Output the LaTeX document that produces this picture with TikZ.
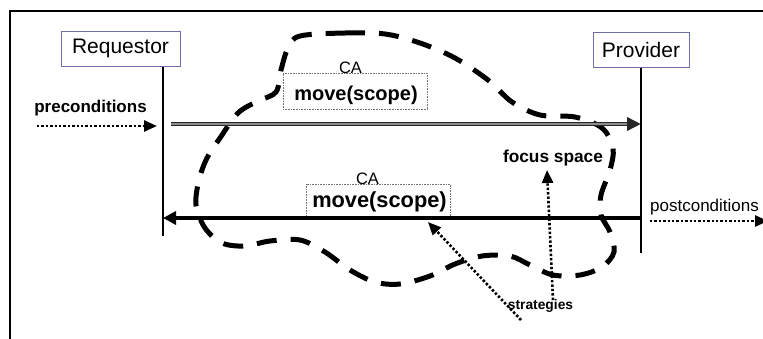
\documentclass[tikz,border=0pt]{standalone}
\usepackage{fontspec}
\setmainfont{Liberation Sans}
\usetikzlibrary{arrows.meta}
\definecolor{boxedge}{RGB}{110,110,170}

\begin{document}
\begin{tikzpicture}[x=1pt,y=-1pt,
  actor/.style={draw=boxedge,line width=1pt,fill=white,inner sep=0pt,
    font=\fontsize{21}{25}\selectfont},
  lifeline/.style={line width=2pt},
  cabox/.style={draw=black!55,densely dotted,line width=0.6pt,inner sep=0pt},
  calabel/.style={font=\fontsize{16.5}{20}\selectfont,inner sep=0pt},
  movetext/.style={font=\bfseries\fontsize{20}{24}\selectfont,inner sep=0pt},
  condtext/.style={inner sep=0pt},
  dotarrow/.style={line width=2.6pt,dash pattern=on 2.4pt off 2pt,
    -{Triangle[length=13pt,width=11pt]}},
  blob/.style={line width=5pt,dash pattern=on 20pt off 14pt},
]
\useasboundingbox (0,0) rectangle (763,338);
\clip (0,0) rectangle (763,338);

% frame
\draw[line width=2pt] (770,11) -- (10,11) -- (10,345);

% focus space outline
\draw[blob] plot[smooth cycle, tension=0.55] coordinates {
  (300,36) (345,33) (385,34) (420,43) (455,58) (488,80) (512,102)
  (540,115) (575,117) (602,128) (613,148) (610,170) (601,195) (601,215)
  (610,232) (614,252) (602,267) (580,275) (553,275) (530,265) (510,256)
  (482,256) (455,264) (430,276) (400,284) (375,282) (350,270) (325,252)
  (300,240) (270,241) (245,246) (222,243) (205,228) (196,205) (199,180)
  (207,158) (220,138) (238,113) (258,101) (276,92) (281,70) (288,48)};

% actors and lifelines
\node[actor,minimum width=119pt,minimum height=35pt] (req) at (120.5,48.5) {Requestor};
\node[actor,minimum width=96pt,minimum height=35pt] (prov) at (641,49.5) {Provider};
\coordinate (reqEnd) at (163,236);
\coordinate (provEnd) at (641,253);
\draw[lifeline] (reqEnd |- req.south) -- (reqEnd);
\draw[lifeline] (prov.south) -- (provEnd);

% communicative acts
\node[cabox,minimum width=144pt,minimum height=36pt] (ca1box) at (355,91) {};
\node[calabel,anchor=base,fill=white] (ca1lab) at (350.5,73) {CA};
\node[movetext] (ca1txt) at (356,95) {move(scope)};

\node[cabox,minimum width=144pt,minimum height=35pt] (ca2box) at (378,201.5) {};
\node[calabel,anchor=base,fill=white] (ca2lab) at (367.5,184) {CA};
\node[movetext,font=\bfseries\fontsize{21.8}{26}\selectfont] (ca2txt) at (379.5,202) {move(scope)};

% request message (double line)
\coordinate (topStart) at (171,124);
\coordinate (topEnd) at (641,124);
\draw[line width=4.2pt,black!85,-{Triangle[length=14pt,width=13pt]}] (topStart) -- (topEnd);
\draw[line width=1.1pt,black!45,shorten >=14pt] (topStart) -- (topEnd);

% reply message
\coordinate (botStart) at (641,218);
\coordinate (botEnd) at (163,218);
\draw[line width=4pt,-{Triangle[length=13pt,width=13pt]}] (botStart) -- (botEnd);

% pre- and postconditions
\node[condtext,font=\bfseries\fontsize{17}{20}\selectfont] (pre) at (90.5,108) {preconditions};
\coordinate (preStart) at (37,126);
\coordinate (preTip) at (157,126);
\draw[dotarrow] (preStart) -- (preTip);

\node[condtext,anchor=west,font=\fontsize{17}{20}\selectfont] (post) at (650,207) {postconditions};
\coordinate (postStart) at (650,221);
\coordinate (postTip) at (768,221);
\draw[dotarrow] (postStart) -- (postTip);

% focus space and strategies
\node[condtext,font=\bfseries\fontsize{17.3}{20}\selectfont] (focus) at (553,158) {focus space};
\node[condtext,font=\bfseries\fontsize{13.8}{16}\selectfont] (strat) at (540.5,306) {strategies};
\coordinate (stratA) at (553,300);
\coordinate (focusTip) at (547,170);
\coordinate (stratB) at (521,320);
\coordinate (moveTip) at (428,222);
\draw[dotarrow] (stratA) -- (focusTip);
\draw[dotarrow] (stratB) -- (moveTip);
\end{tikzpicture}
\end{document}
